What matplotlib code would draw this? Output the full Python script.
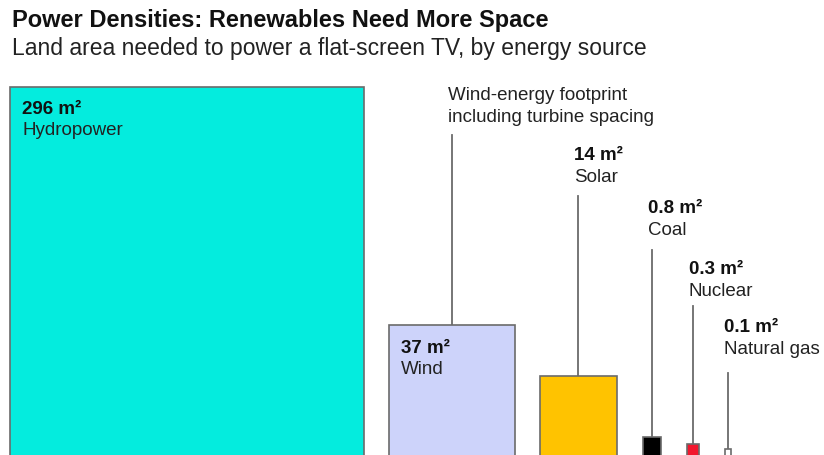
import numpy as np
import matplotlib.pyplot as plt
from matplotlib.patches import Rectangle

plt.rcParams['font.family'] = ['Liberation Sans', 'DejaVu Sans']

sources = ['Hydropower', 'Wind', 'Solar', 'Coal', 'Nuclear', 'Natural gas']
areas = [296, 37, 14, 0.8, 0.3, 0.1]
area_labels = ['296 m²', '37 m²', '14 m²', '0.8 m²', '0.3 m²', '0.1 m²']
fills = ['#04ECDE', '#CDD3FA', '#FFC300', '#000000', '#F2172E', '#FFFFFF']

W, H = 824, 455
fig = plt.figure(figsize=(W / 100, H / 100), dpi=100)
ax = fig.add_axes([0, 0, 1, 1])
ax.set_axis_off()

# pixels per unit of side length (side = sqrt(area))
sx, sy = 20.6, 21.4
x0 = 10 / sx
ax.set_xlim(-x0, W / sx - x0)
ax.set_ylim(0.04, H / sy)


def ypx(p):
    # figure pixel row (from top) -> data y
    return (H - p) / sy


sides = np.sqrt(areas)
gaps = np.array([25, 25, 26, 26, 26]) / sx
lefts = np.concatenate([[0], np.cumsum(sides[:-1] + gaps)])

for left, side, c in zip(lefts, sides, fills):
    ax.add_patch(Rectangle((left, 0), side, side, facecolor=c,
                           edgecolor='#6b6b6b', lw=1.2, zorder=2))

fs = 13.5
txt = '#222222'

# labels inside the two large squares
for i in (0, 1):
    top = sides[i]
    ax.annotate(area_labels[i], (lefts[i], top), xytext=(12, -23),
                textcoords='offset pixels', fontsize=fs, fontweight='bold',
                color='#111111', va='center')
    ax.annotate(sources[i], (lefts[i], top), xytext=(12, -44),
                textcoords='offset pixels', fontsize=fs, color=txt,
                va='center')

# leader lines and labels above the small squares
label_rows = {2: 155, 3: 208, 4: 269, 5: 327}
line_tops = {2: 196, 3: 250, 4: 305, 5: 372}
for i, row in label_rows.items():
    cx = lefts[i] + sides[i] / 2
    ax.plot([cx, cx], [sides[i], ypx(line_tops[i])], color='#6b6b6b',
            lw=1.3, zorder=1)
    tx = cx - 4 / sx
    ax.text(tx, ypx(row), area_labels[i], fontsize=fs, fontweight='bold',
            color='#111111', va='center')
    ax.text(tx, ypx(row + 22), sources[i], fontsize=fs, color=txt,
            va='center')

# wind footprint note
cx = lefts[1] + sides[1] / 2
ax.plot([cx, cx], [sides[1], ypx(135)], color='#6b6b6b', lw=1.3, zorder=1)
ax.text(cx - 4 / sx, ypx(95), 'Wind-energy footprint', fontsize=fs,
        color=txt, va='center')
ax.text(cx - 4 / sx, ypx(117), 'including turbine spacing', fontsize=fs,
        color=txt, va='center')

fig.text(12 / W, 1 - 20 / H, 'Power Densities: Renewables Need More Space',
         fontsize=17, fontweight='bold', color='#111111', va='center')
fig.text(12 / W, 1 - 49 / H,
         'Land area needed to power a flat-screen TV, by energy source',
         fontsize=16.5, color='#222222', va='center')

fig.savefig('out.png', dpi=100)
